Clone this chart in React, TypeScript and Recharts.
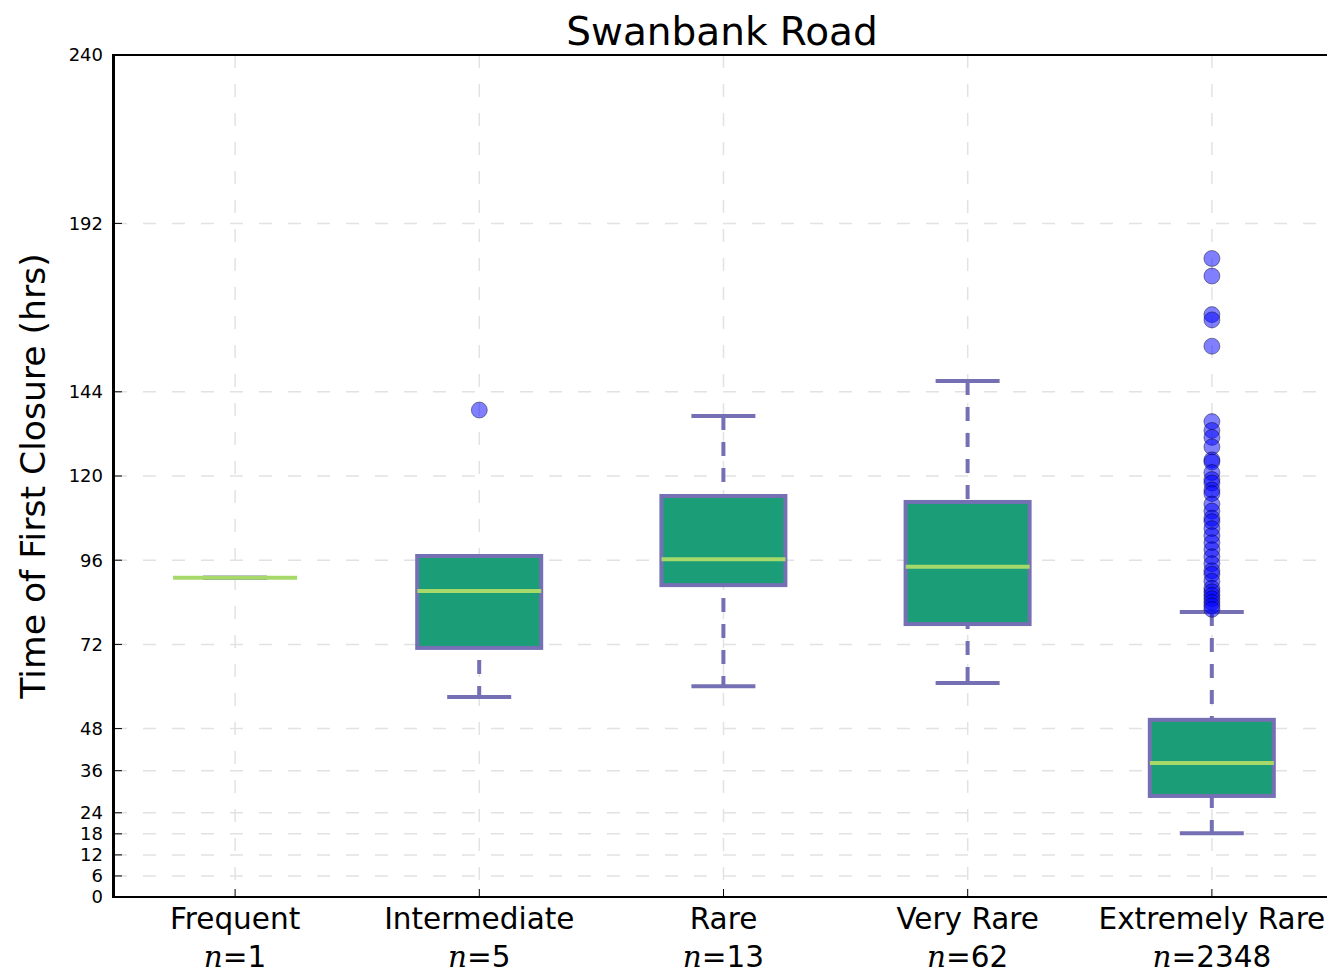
import React from "react";
import {
  ComposedChart,
  Bar,
  Scatter,
  XAxis,
  YAxis,
  CartesianGrid,
  ReferenceArea,
} from "recharts";

const categories = ["Frequent", "Intermediate", "Rare", "Very Rare", "Extremely Rare"];
const counts = [1, 5, 13, 62, 2348];
const whiskerLow = [91, 57, 60.1, 61, 18.2];
const q1 = [91, 71, 88.9, 77.8, 28.8];
const median = [91, 87.2, 96.3, 94.1, 38.2];
const q3 = [91, 97.2, 114.3, 112.6, 50.5];
const whiskerHigh = [91, 97.2, 137.1, 147.1, 81.2];

const intermediateOutliers = [138.8];
const extremelyRareOutliers = [
  182, 177, 166, 164.5, 157, 135.5, 133, 131, 128.3, 124.6, 124, 121, 119,
  118, 116, 115, 112, 110, 108, 107, 105, 103, 101, 99, 97, 95, 93, 92, 90,
  88, 87, 86, 85, 84, 83, 82,
];

const yTicks = [0, 6, 12, 18, 24, 36, 48, 72, 96, 120, 144, 192, 240];

const FONT = "'DejaVu Sans', sans-serif";
const PURPLE = "#7570b3";
const GREEN = "#1b9e77";
const MEDIAN = "#a6d96a";
const BOX_W = 124;
const X_PAD = { left: -1, right: -4 };

const data = categories.map((cat, i) => ({
  cat,
  n: counts[i],
  box: [q1[i], q3[i]],
  whisker: [whiskerLow[i], whiskerHigh[i]],
  median: median[i],
}));

const outlierData = [
  ...intermediateOutliers.map((v) => ({ cat: "Intermediate", v })),
  ...extremelyRareOutliers.map((v) => ({ cat: "Extremely Rare", v })),
];

const WhiskerShape = (props: any) => {
  const { x, y, width, height } = props;
  const cx = x + width / 2;
  const top = Math.min(y, y + height);
  const bottom = Math.max(y, y + height);
  return (
    <g stroke={PURPLE} strokeWidth={4}>
      <line x1={cx} x2={cx} y1={top} y2={bottom} strokeDasharray="14 12" />
      <line x1={cx - 32} x2={cx + 32} y1={top} y2={top} />
      <line x1={cx - 32} x2={cx + 32} y1={bottom} y2={bottom} />
    </g>
  );
};

const BoxShape = (props: any) => {
  const { x, y, width, height } = props;
  const top = Math.min(y, y + height);
  const h = Math.abs(height);
  return (
    <rect x={x} y={top} width={width} height={h} fill={GREEN} stroke={PURPLE} strokeWidth={4} />
  );
};

const MedianShape = (props: any) => {
  const { cx, cy } = props;
  return <line x1={cx - BOX_W / 2} x2={cx + BOX_W / 2} y1={cy} y2={cy} stroke={MEDIAN} strokeWidth={4} />;
};

const OutlierShape = (props: any) => {
  const { cx, cy } = props;
  return (
    <circle cx={cx} cy={cy} r={8} fill="#0000ff" fillOpacity={0.5} stroke="#000" strokeOpacity={0.4} strokeWidth={1} />
  );
};

const YTick = (props: any) => {
  const { x, y, payload } = props;
  return (
    <g>
      <line x1={x} x2={x + 8} y1={y} y2={y} stroke="#000" strokeWidth={1} />
      <text x={x - 11} y={y} dy="0.36em" textAnchor="end" fontFamily={FONT} fontSize={18} fill="#000">
        {payload.value}
      </text>
    </g>
  );
};

const XTick = (props: any) => {
  const { x, y, payload, index } = props;
  return (
    <g>
      <line x1={x} x2={x} y1={y} y2={y - 8} stroke="#000" strokeWidth={1} />
      <text x={x} y={y + 32} textAnchor="middle" fontFamily={FONT} fontSize={29.5} fill="#000">
        {payload.value}
      </text>
      <text x={x} y={y + 70} textAnchor="middle" fontFamily={FONT} fontSize={29.5} fill="#000">
        <tspan fontFamily="'DejaVu Serif', serif" fontStyle="italic">n</tspan>
        <tspan>={counts[index]}</tspan>
      </text>
    </g>
  );
};

export default function App() {
  return (
    <div style={{ position: "relative", width: 1327, height: 969, background: "#fff" }}>
      <div
        style={{
          position: "absolute",
          left: 106,
          width: 1216,
          top: 4,
          textAlign: "center",
          fontFamily: FONT,
          fontSize: 39,
          lineHeight: "39px",
          color: "#000",
        }}
      >
        Swanbank Road
      </div>
      <ComposedChart
        width={1327}
        height={969}
        data={data}
        margin={{ top: 47, right: 5, bottom: 0, left: 0 }}
      >
        <CartesianGrid
          xAxisId="main"
          stroke="#e2e2e2"
          strokeWidth={1.5}
          strokeDasharray="13 16"
        />
        <XAxis
          xAxisId="main"
          dataKey="cat"
          type="category"
          allowDuplicatedCategory={false}
          padding={X_PAD}
          height={80}
          tickSize={0}
          tickMargin={0}
          tickLine={false}
          axisLine={{ stroke: "#000", strokeWidth: 2 }}
          tick={<XTick />}
          interval={0}
        />
        <XAxis
          xAxisId="wh"
          dataKey="cat"
          type="category"
          allowDuplicatedCategory={false}
          padding={X_PAD}
          hide
        />
        <YAxis
          type="number"
          domain={[0, 240]}
          ticks={yTicks}
          width={106}
          tickSize={0}
          tickMargin={0}
          tickLine={false}
          axisLine={{ stroke: "#000", strokeWidth: 2 }}
          tick={<YTick />}
          interval={0}
          label={({ viewBox }: any) => (
            <text
              x={27}
              y={viewBox.y + viewBox.height / 2}
              transform={`rotate(-90, 27, ${viewBox.y + viewBox.height / 2})`}
              textAnchor="middle"
              dominantBaseline="middle"
              fontFamily={FONT}
              fontSize={34.6}
              fill="#000"
            >
              Time of First Closure (hrs)
            </text>
          )}
        />
        <ReferenceArea
          xAxisId="main"
          y1={0}
          y2={240}
          fill="none"
          fillOpacity={0}
          stroke="#000"
          strokeWidth={2}
        />
        <Bar
          xAxisId="wh"
          dataKey="whisker"
          barSize={BOX_W}
          shape={<WhiskerShape />}
          isAnimationActive={false}
        />
        <Bar
          xAxisId="main"
          dataKey="box"
          barSize={BOX_W}
          shape={<BoxShape />}
          isAnimationActive={false}
        />
        <Scatter
          xAxisId="main"
          dataKey="median"
          shape={<MedianShape />}
          isAnimationActive={false}
        />
        <Scatter
          xAxisId="main"
          data={outlierData}
          dataKey="v"
          shape={<OutlierShape />}
          isAnimationActive={false}
        />
      </ComposedChart>
    </div>
  );
}
